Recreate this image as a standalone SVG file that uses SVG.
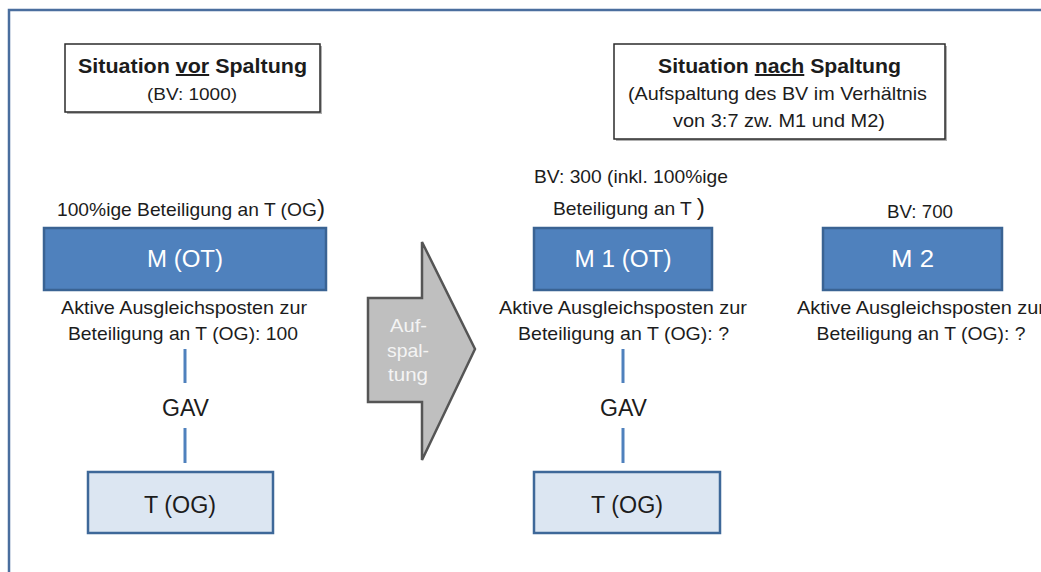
<svg xmlns="http://www.w3.org/2000/svg" width="1041" height="572" viewBox="0 0 1041 572">
<style>
text{font-family:"Liberation Sans",Arial,sans-serif;fill:#1c1c1c}
.body{font-size:19px}
.title{font-size:20px;font-weight:bold}
.tbox{fill:#fff;stroke:#2b2b2b;stroke-width:1.5}
.shadow{fill:#b0b0b0}
.mbox{fill:#4F81BD;stroke:#3A6393;stroke-width:2.5}
.mtxt{font-size:23px;fill:#fff}
.ogbox{fill:#DCE6F2;stroke:#3E6899;stroke-width:2.5}
.ogtxt{font-size:23px;fill:#1c1c1c}
.conn{stroke:#4F81BD;stroke-width:3;fill:none}
.gav{font-size:23px}
.arrow{fill:#BFBFBF;stroke:#555;stroke-width:2.5;stroke-linejoin:miter}
.atxt{font-size:18.5px;fill:#F4F4F4}
</style>
<rect x="0" y="0" width="1041" height="572" fill="#fff"/>
<rect id="frame" x="9" y="10" width="1100" height="600" fill="none" stroke="#4A6E9E" stroke-width="2.5"/>

<g id="title-left">
<rect class="shadow" x="67" y="46" width="255" height="68"/>
<rect class="tbox" x="65" y="44" width="255" height="68"/>
<text class="title" x="192.5" y="73" text-anchor="middle" textLength="229" lengthAdjust="spacingAndGlyphs">Situation <tspan text-decoration="underline">vor</tspan> Spaltung</text>
<text class="body" x="192" y="100" text-anchor="middle" textLength="90" lengthAdjust="spacingAndGlyphs" style="font-size:16.5px">(BV: 1000)</text>
</g>

<g id="title-right">
<rect class="shadow" x="616" y="46" width="331" height="95"/>
<rect class="tbox" x="614" y="44" width="331" height="95"/>
<text class="title" x="779.5" y="73" text-anchor="middle" textLength="243" lengthAdjust="spacingAndGlyphs">Situation <tspan text-decoration="underline">nach</tspan> Spaltung</text>
<text class="body" x="777.5" y="100" text-anchor="middle" textLength="299" lengthAdjust="spacingAndGlyphs">(Aufspaltung des BV im Verhältnis</text>
<text class="body" x="779" y="127" text-anchor="middle" textLength="212" lengthAdjust="spacingAndGlyphs">von 3:7 zw. M1 und M2)</text>
</g>

<g id="M">
<text class="body" x="57" y="216" textLength="268" lengthAdjust="spacingAndGlyphs">100%ige Beteiligung an T (OG<tspan style="font-size:24px">)</tspan></text>
<rect class="mbox" x="44" y="228" width="282" height="62"/>
<text class="mtxt" x="185" y="267" text-anchor="middle" textLength="76" lengthAdjust="spacingAndGlyphs">M (OT)</text>
<text class="body" x="184" y="314" text-anchor="middle" textLength="246" lengthAdjust="spacingAndGlyphs">Aktive Ausgleichsposten zur</text>
<text class="body" x="183" y="340" text-anchor="middle" textLength="230" lengthAdjust="spacingAndGlyphs">Beteiligung an T (OG): 100</text>
</g>

<g id="T-left">
<rect class="ogbox" x="88" y="472" width="185" height="61"/>
<text class="ogtxt" x="180" y="513" text-anchor="middle" textLength="72" lengthAdjust="spacingAndGlyphs">T (OG)</text>
</g>

<g id="arrow">
<polygon class="arrow" points="368,298 422,298 422,242 475,349 422,460 422,402 368,402"/>
<text class="atxt" x="408.5" y="332" text-anchor="middle" textLength="37" lengthAdjust="spacingAndGlyphs">Auf-</text>
<text class="atxt" x="408" y="357" text-anchor="middle" textLength="42" lengthAdjust="spacingAndGlyphs">spal-</text>
<text class="atxt" x="408" y="381" text-anchor="middle" textLength="40" lengthAdjust="spacingAndGlyphs">tung</text>
</g>

<g id="M1">
<text class="body" x="534" y="183" textLength="194" lengthAdjust="spacingAndGlyphs">BV: 300 (inkl. 100%ige</text>
<text class="body" x="553" y="215" textLength="152" lengthAdjust="spacingAndGlyphs">Beteiligung an T <tspan style="font-size:24px">)</tspan></text>
<rect class="mbox" x="534" y="228" width="178" height="62"/>
<text class="mtxt" x="623" y="267" text-anchor="middle" textLength="97" lengthAdjust="spacingAndGlyphs">M 1 (OT)</text>
<text class="body" x="623" y="314" text-anchor="middle" textLength="248" lengthAdjust="spacingAndGlyphs">Aktive Ausgleichsposten zur</text>
<text class="body" x="623.5" y="340" text-anchor="middle" textLength="211" lengthAdjust="spacingAndGlyphs">Beteiligung an T (OG): ?</text>
</g>

<g id="T-right">
<rect class="ogbox" x="534" y="472" width="186" height="61"/>
<text class="ogtxt" x="627" y="513" text-anchor="middle" textLength="72" lengthAdjust="spacingAndGlyphs">T (OG)</text>
</g>

<g id="M2">
<text class="body" x="920" y="218" text-anchor="middle" textLength="66" lengthAdjust="spacingAndGlyphs">BV: 700</text>
<rect class="mbox" x="823" y="228" width="179" height="62"/>
<text class="mtxt" x="912.5" y="267" text-anchor="middle" textLength="43" lengthAdjust="spacingAndGlyphs">M 2</text>
<text class="body" x="797" y="314" textLength="248" lengthAdjust="spacingAndGlyphs">Aktive Ausgleichsposten zur</text>
<text class="body" x="921" y="340" text-anchor="middle" textLength="209" lengthAdjust="spacingAndGlyphs">Beteiligung an T (OG): ?</text>
</g>

<g id="connectors">
<line class="conn" x1="185" y1="349" x2="185" y2="383"/>
<text class="gav" x="185.5" y="416" text-anchor="middle" textLength="47" lengthAdjust="spacingAndGlyphs">GAV</text>
<line class="conn" x1="185" y1="428" x2="185" y2="463"/>
<line class="conn" x1="623" y1="349" x2="623" y2="383"/>
<text class="gav" x="623.5" y="416" text-anchor="middle" textLength="47" lengthAdjust="spacingAndGlyphs">GAV</text>
<line class="conn" x1="623" y1="428" x2="623" y2="463"/>
</g>
</svg>
